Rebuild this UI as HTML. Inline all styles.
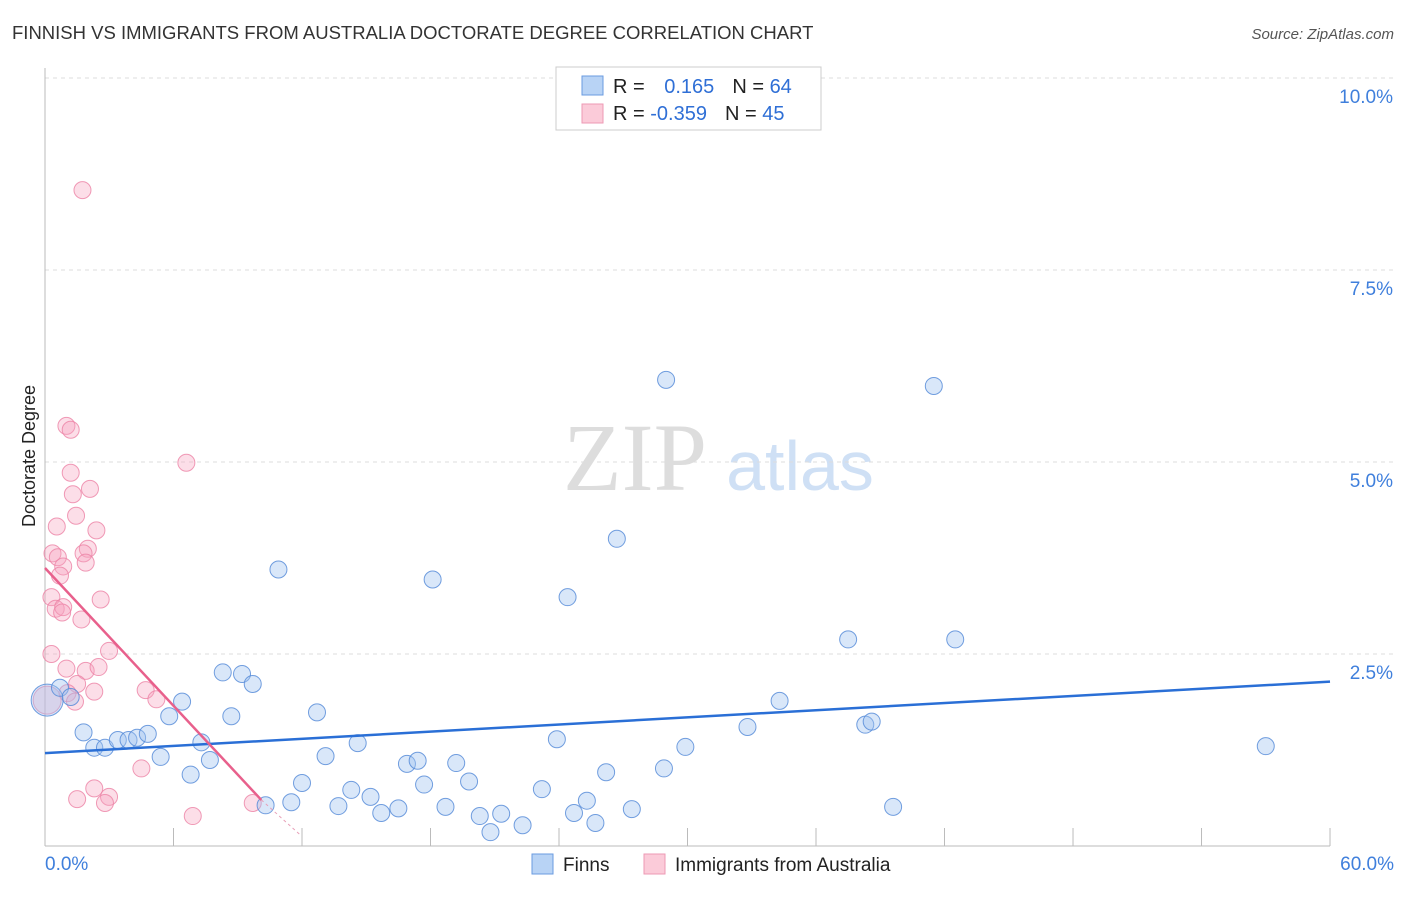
<!DOCTYPE html>
<html><head><meta charset="utf-8"><style>
body{margin:0;background:#fff;font-family:"Liberation Sans",sans-serif;}
</style></head><body>
<svg width="1406" height="892" xmlns="http://www.w3.org/2000/svg">
<text x="12" y="39" font-size="18.5" fill="#333">FINNISH VS IMMIGRANTS FROM AUSTRALIA DOCTORATE DEGREE CORRELATION CHART</text>
<text x="1394" y="39" font-size="15" fill="#555" text-anchor="end" font-style="italic">Source: ZipAtlas.com</text>
<text x="35" y="456" font-size="18" fill="#222" text-anchor="middle" transform="rotate(-90 35 456)">Doctorate Degree</text>
<text x="635" y="490" font-size="96" fill="#ddd" font-family="Liberation Serif,serif" text-anchor="middle">ZIP</text>
<text x="800" y="490" font-size="70" fill="#cfe0f5" text-anchor="middle">atlas</text>
<g id="grid"></g><g id="pts"></g><g id="lines"></g>
<g>
<rect x="556" y="67" width="265" height="63" fill="#fff" stroke="#ccc"/>
<rect x="582" y="76" width="21" height="19" fill="#b8d3f5" stroke="#6a9be0"/>
<rect x="582" y="104" width="21" height="19" fill="#fbcbd9" stroke="#ee9ab4"/>
<text x="613" y="93" font-size="20" fill="#222">R = <tspan fill="#2f6fd6" dx="14">0.165</tspan><tspan dx="18" fill="#222">N = </tspan><tspan fill="#2f6fd6">64</tspan></text>
<text x="613" y="120" font-size="20" fill="#222">R = <tspan fill="#2f6fd6">-0.359</tspan><tspan dx="18" fill="#222">N = </tspan><tspan fill="#2f6fd6">45</tspan></text>
</g>
<g>
<rect x="532" y="854" width="21" height="20" fill="#b8d3f5" stroke="#6a9be0"/>
<text x="563" y="871" font-size="19" fill="#222">Finns</text>
<rect x="644" y="854" width="21" height="20" fill="#fbcbd9" stroke="#ee9ab4"/>
<text x="675" y="871" font-size="19" fill="#222">Immigrants from Australia</text>
</g>
</svg>
<script>
const yTicks=[2.5,5,7.5,10];
const yTickLabels=["2.5%","5.0%","7.5%","10.0%"];
const xTicks=[0,6,12,18,24,30,36,42,48,54,60];
const finnsX=[0.1,0.7,1.2,1.8,2.3,2.8,3.4,3.9,4.3,4.8,5.4,5.8,6.4,6.8,7.3,7.7,8.3,8.7,9.2,9.7,10.3,10.9,11.5,12.0,12.7,13.1,13.7,14.3,14.6,15.2,15.7,16.5,16.9,17.4,17.7,18.1,18.7,19.2,19.8,20.3,20.8,21.3,22.3,23.2,23.9,24.4,24.7,25.3,25.7,26.2,26.7,27.4,28.9,29.0,29.9,32.8,34.3,37.5,38.3,38.6,39.6,41.5,42.5,57.0];
const finnsY=[1.9,2.06,1.94,1.48,1.28,1.28,1.38,1.38,1.41,1.46,1.16,1.69,1.88,0.93,1.35,1.12,2.26,1.69,2.24,2.11,0.53,3.6,0.57,0.82,1.74,1.17,0.52,0.73,1.34,0.64,0.43,0.49,1.07,1.11,0.8,3.47,0.51,1.08,0.84,0.39,0.18,0.42,0.27,0.74,1.39,3.24,0.43,0.59,0.3,0.96,4.0,0.48,1.01,6.07,1.29,1.55,1.89,2.69,1.58,1.62,0.51,5.99,2.69,1.3];
const ausX=[0.1,1.0,1.2,6.6,1.2,2.1,1.3,1.45,0.55,2.4,2.0,0.35,0.6,1.8,1.9,0.85,0.7,0.3,2.6,0.5,0.85,0.8,1.7,0.3,2.99,1.0,1.9,2.5,1.5,2.3,4.7,5.2,1.05,1.4,4.5,2.3,1.5,2.99,2.8,6.9,9.7,1.75];
const ausY=[1.9,5.47,5.42,4.99,4.86,4.65,4.58,4.3,4.16,4.11,3.87,3.81,3.76,3.81,3.69,3.64,3.52,3.24,3.21,3.09,3.11,3.04,2.95,2.5,2.54,2.31,2.28,2.33,2.11,2.01,2.03,1.91,1.99,1.88,1.01,0.75,0.61,0.64,0.56,0.39,0.56,8.54];
const blueTrend=[[0,1.21],[60,2.14]];
const pinkTrend=[[0,3.62],[10.1,0.6]];
const X=v=>45+v*21.417, Y=v=>846-v*76.8;
const NS="http://www.w3.org/2000/svg";
function mk(t,a,p){const e=document.createElementNS(NS,t);for(const k in a)e.setAttribute(k,a[k]);p.appendChild(e);return e;}
const g=document.getElementById('grid');
yTicks.forEach((v,i)=>{
 const l=mk('line',{x1:45,x2:1394,y1:Y(v),y2:Y(v),stroke:'#ddd','stroke-dasharray':'4 4'},g);
 
 
 const t=mk('text',{x:1393,y:Y(v)+25,'font-size':19,fill:'#3f7fdc','text-anchor':'end'},g);t.textContent=yTickLabels[i];
 
 
});
const ax=mk('line',{x1:45,x2:1330,y1:846,y2:846,stroke:'#bbb'},g);


const ay=mk('line',{x1:45,x2:45,y1:68,y2:846,stroke:'#bbb'},g);


xTicks.forEach(v=>{const l=mk('line',{x1:X(v),x2:X(v),y1:828,y2:846,stroke:'#bbb'},g);
 
 });
let t=mk('text',{x:45,y:870,'font-size':19,fill:'#3f7fdc'},g);t.textContent='0.0%';


t=mk('text',{x:1394,y:870,'font-size':19,fill:'#3f7fdc','text-anchor':'end'},g);t.textContent='60.0%';


const p=document.getElementById('pts');
ausX.forEach((x,i)=>{const c=mk('circle',{cx:X(x),cy:Y(ausY[i]),r:i==0?14:8.5,fill:'rgba(246,160,188,0.35)',stroke:'rgba(236,130,165,0.8)'},p);
 
 });
finnsX.forEach((x,i)=>{const c=mk('circle',{cx:X(x),cy:Y(finnsY[i]),r:i==0?16:8.5,fill:'rgba(160,195,240,0.4)',stroke:'rgba(80,135,215,0.8)'},p);
 
 });
const L=document.getElementById('lines');
let l=mk('line',{x1:X(blueTrend[0][0]),y1:Y(blueTrend[0][1]),x2:X(blueTrend[1][0]),y2:Y(blueTrend[1][1]),stroke:'#2a6fd6','stroke-width':2.5},L);


l=mk('line',{x1:X(pinkTrend[0][0]),y1:Y(pinkTrend[0][1]),x2:X(pinkTrend[1][0]),y2:Y(pinkTrend[1][1]),stroke:'#e8608c','stroke-width':2.5},L);


l=mk('line',{x1:X(pinkTrend[1][0]),y1:Y(pinkTrend[1][1]),x2:X(11.9),y2:Y(0.15),stroke:'#e8a0b8','stroke-width':1,'stroke-dasharray':'3 3'},L);


</script>
</body></html>
